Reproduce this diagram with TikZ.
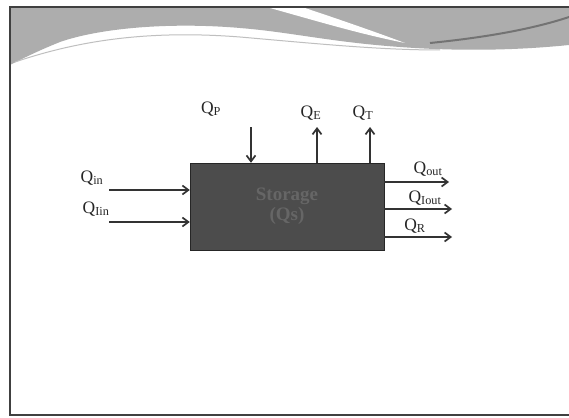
\documentclass[tikz,border=0pt]{standalone}
\usepackage{fontspec}
\setmainfont{Liberation Serif}
\usetikzlibrary{positioning,arrows.meta}

\begin{document}
\begin{tikzpicture}[x=1pt, y=-1pt,
  store/.style={draw=black!85, fill=black!70, minimum width=194pt, minimum height=87pt, inner sep=0pt},
  flow/.style={-{Straight Barb[length=6pt, width=9pt]}, line width=1.7pt, draw=black!80},
  qlabel/.style={font=\fontsize{17.5}{19}\selectfont, inner sep=1pt, text=black!85}
]
% page and slide frame
\fill[white] (0,0) rectangle (569,417);
\useasboundingbox (0,0) rectangle (569,417);

% header wave
\fill[black!32] (10,7) -- (569,7) -- (569,45)
  .. controls (500,52) and (440,50) .. (400,47)
  .. controls (330,42) and (290,32) .. (240,28)
  .. controls (170,22) and (100,28) .. (60,42)
  .. controls (35,52) and (20,60) .. (10,65) -- cycle;
\fill[white] (270,8) .. controls (320,22) and (360,34) .. (405,43)
  .. controls (370,30) and (335,18) .. (305,8) -- cycle;
\draw[black!55, line width=2pt] (430,43) .. controls (480,38) and (530,30) .. (569,17);
\draw[black!25, line width=1pt] (15,62) .. controls (80,40) and (150,30) .. (240,37)
  .. controls (320,44) and (380,50) .. (440,50);
\draw[black!75, line width=1.5pt] (569,7) -- (10,7) -- (10,415) -- (569,415);

% storage box
\node[store] (store) at (287,206.5) {};
\node[font=\fontsize{19}{20}\selectfont\bfseries, text=black!60, align=center] (storetext) at (store.center) {Storage\\(Qs)};

% ends of the connectors
\coordinate (in) at (109,190);
\coordinate (iin) at (109,222);
\coordinate (p) at (251,127);
\coordinate (e) at (317,127);
\coordinate (t) at (370,127);
\coordinate (out) at (449,182);
\coordinate (iout) at (452,209);
\coordinate (r) at (452,237);

\draw[flow] (in) -- (in -| store.west);
\draw[flow] (iin) -- (iin -| store.west);
\draw[flow] (p) -- (p |- store.north);
\draw[flow] (e |- store.north) -- (e);
\draw[flow] (t |- store.north) -- (t);
\draw[flow] (out -| store.east) -- (out);
\draw[flow] (iout -| store.east) -- (iout);
\draw[flow] (r -| store.east) -- (r);

% flow labels
\node[qlabel] (qin) at (92,178) {Q\textsubscript{in}};
\node[qlabel] (qiin) at (96,209) {Q\textsubscript{Iin}};
\node[qlabel] (qp) at (211,109) {Q\textsubscript{P}};
\node[qlabel] (qe) at (311,113) {Q\textsubscript{E}};
\node[qlabel] (qt) at (363,113) {Q\textsubscript{T}};
\node[qlabel] (qout) at (428,169) {Q\textsubscript{out}};
\node[qlabel] (qiout) at (425,198) {Q\textsubscript{Iout}};
\node[qlabel] (qr) at (415,226) {Q\textsubscript{R}};
\end{tikzpicture}
\end{document}
